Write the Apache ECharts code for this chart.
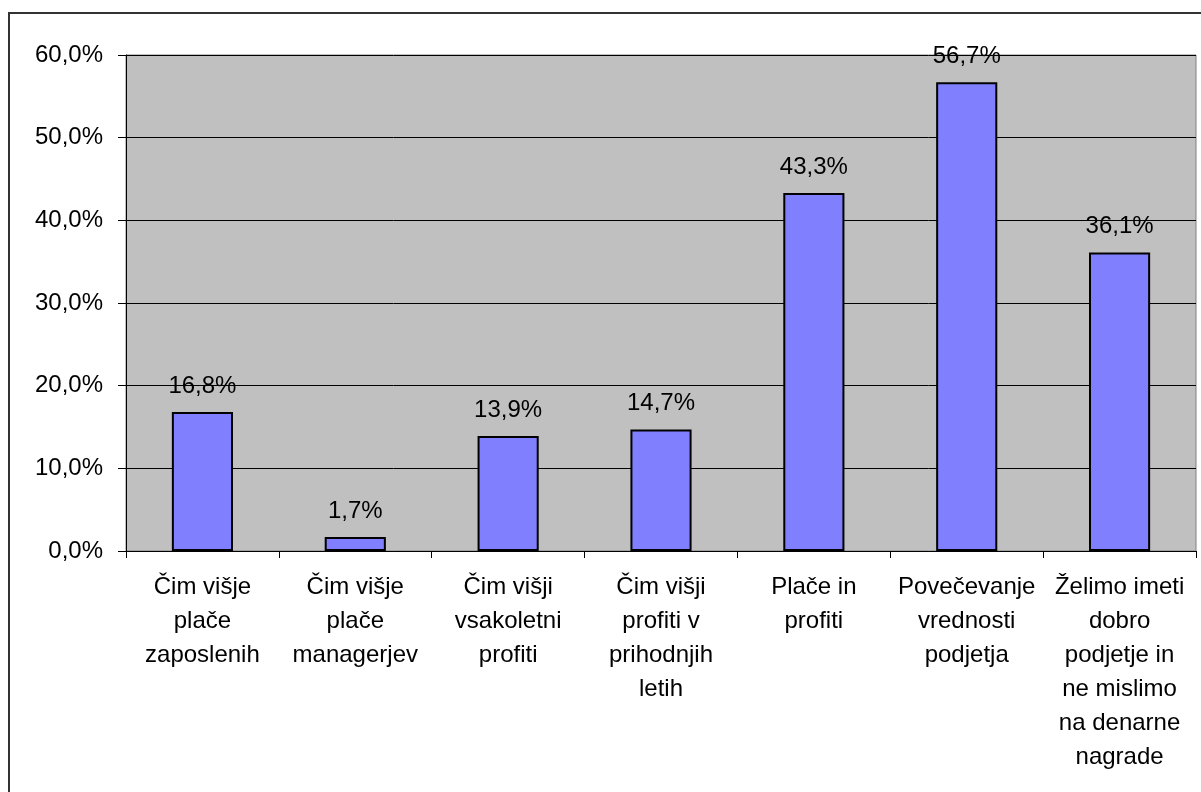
<!DOCTYPE html>
<html>
<head>
<meta charset="utf-8">
<script src="https://cdn.jsdelivr.net/npm/echarts@6/dist/echarts.min.js"></script>
<style>
  html, body { margin: 0; padding: 0; background: #fff; overflow: hidden; }
  #frame { position: absolute; left: 8px; top: 12px; width: 1300px; height: 900px;
           border-left: 2px solid #333; border-top: 2px solid #333; }
  #chart { position: absolute; left: 0; top: 0; width: 1201px; height: 792px; }
</style>
</head>
<body>
<div id="frame"></div>
<div id="chart"></div>
<script>
// kategorije (x os)
const categories = [
  'Čim višje\nplače\nzaposlenih',
  'Čim višje\nplače\nmanagerjev',
  'Čim višji\nvsakoletni\nprofiti',
  'Čim višji\nprofiti v\nprihodnjih\nletih',
  'Plače in\nprofiti',
  'Povečevanje\nvrednosti\npodjetja',
  'Želimo imeti\ndobro\npodjetje in\nne mislimo\nna denarne\nnagrade'
];
// deleži v %
const values = [16.8, 1.7, 13.9, 14.7, 43.3, 56.7, 36.1];
const yTicks = [0, 10, 20, 30, 40, 50, 60];

const fmt = v => v.toFixed(1).replace('.', ',') + '%';

const chart = echarts.init(document.getElementById('chart'));
chart.setOption({
  animation: false,
  grid: {
    left: 126, top: 55, right: 5, bottom: 241,
    show: true, backgroundColor: '#c0c0c0', borderColor: '#808080', borderWidth: 1
  },
  xAxis: {
    type: 'category',
    data: categories,
    axisLine: { lineStyle: { color: '#000', width: 1 } },
    axisTick: { show: true, length: 7, lineStyle: { color: '#000' } },
    axisLabel: {
      interval: 0, color: '#000', fontFamily: 'Liberation Sans, Arial', fontSize: 24,
      lineHeight: 34, margin: 19
    }
  },
  yAxis: {
    type: 'value',
    min: yTicks[0], max: yTicks[yTicks.length - 1], interval: 10,
    axisLine: { show: true, lineStyle: { color: '#000' } },
    axisTick: { show: true, length: 8, lineStyle: { color: '#000' } },
    splitLine: { lineStyle: { color: '#000', width: 1 } },
    axisLabel: {
      color: '#000', fontFamily: 'Liberation Sans, Arial', fontSize: 24, margin: 23,
      formatter: v => fmt(v)
    }
  },
  series: [{
    type: 'bar',
    data: values,
    barWidth: '40%',
    itemStyle: { color: '#8080ff', borderColor: '#000', borderWidth: 2 },
    label: {
      show: true, position: 'top', distance: 14, color: '#000',
      fontFamily: 'Liberation Sans, Arial', fontSize: 24,
      formatter: p => fmt(p.value)
    }
  }]
});
</script>
</body>
</html>
